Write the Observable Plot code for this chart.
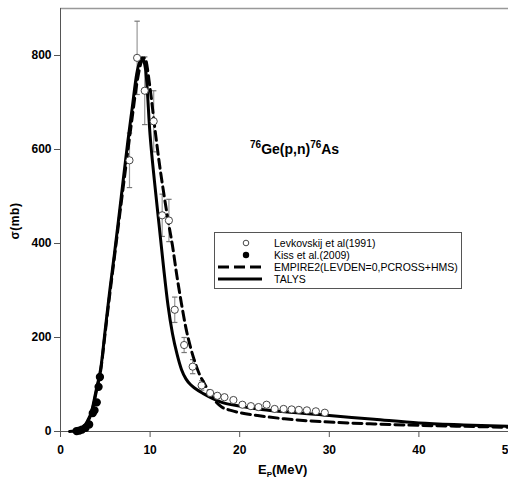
<!DOCTYPE html>
<html>
<head>
<meta charset="utf-8">
<script src="https://cdn.jsdelivr.net/npm/d3@7"></script>
<script src="https://cdn.jsdelivr.net/npm/@observablehq/plot@0.6"></script>
<style>
  html, body { margin: 0; padding: 0; background: #fff; }
  #chart { position: relative; width: 508px; height: 481px; overflow: hidden; }
</style>
</head>
<body>
<div id="chart"></div>
<script>
// Levkovskij et al (open circles with error bars)
const levE = [7.7, 8.55, 9.4, 10.4, 11.35, 12.1, 12.75, 13.8, 14.75, 15.75, 16.7, 17.5, 18.3, 19.3, 20.3, 21.25, 22.1, 23.0, 23.9, 24.9, 25.8, 26.6, 27.5, 28.5, 29.5];
const levS = [577, 795, 725, 660, 460, 449, 259, 184, 138, 98, 82, 76, 73, 67, 57, 54, 52, 57, 48, 48, 47, 46, 45, 43, 40];
const levErr = [58, 78, 72, 65, 45, 45, 27, 16, 15, 10, 0, 0, 0, 0, 0, 0, 0, 0, 0, 0, 0, 0, 0, 0, 0];

// Kiss et al. (2009) (filled circles)
const kissE = [1.8, 2.1, 2.4, 2.8, 3.2, 3.6, 3.8, 4.05, 4.25, 4.4];
const kissS = [1, 2, 4, 8, 15, 39, 45, 62, 95, 116];

// TALYS (solid)
const talysE = [1.0, 2.0, 2.5, 3.0, 3.5, 4.0, 4.5, 5.0, 5.5, 6.0, 6.5, 7.0, 7.5, 8.0, 8.5, 9.1, 9.5, 10.0, 10.5, 11.0, 11.5, 12.0, 12.5, 13.0, 13.5, 14.0, 14.5, 15.0, 16.0, 17.0, 18.0, 20.0, 22.0, 25.0, 30.0, 35.0, 40.0, 45.0, 50.0];
const talysS = [0, 2, 8, 22, 45, 90, 135, 218, 300, 375, 454, 535, 615, 688, 760, 795, 770, 630, 530, 440, 350, 268, 208, 165, 132, 112, 100, 92, 80, 70, 62, 54, 48, 42, 34, 26, 18, 14, 11];

// EMPIRE2 (dashed)
const empE = [1.5, 2.0, 2.5, 3.0, 3.5, 4.0, 4.5, 5.0, 5.5, 6.0, 6.5, 7.0, 7.5, 8.0, 8.5, 9.0, 9.4, 10.0, 10.5, 11.0, 11.5, 12.0, 12.5, 13.0, 13.5, 14.0, 14.5, 15.0, 15.5, 16.0, 16.5, 17.0, 17.5, 18.0, 19.0, 20.0, 22.0, 25.0, 30.0, 35.0, 40.0, 45.0, 50.0];
const empS = [0, 2, 7, 20, 42, 85, 132, 212, 292, 368, 445, 520, 595, 668, 738, 785, 795, 730, 650, 575, 510, 450, 395, 330, 272, 220, 180, 148, 122, 104, 87, 72, 60, 52, 45, 40, 34, 27, 20, 16, 13, 11, 9];

const xTicks = [0, 10, 20, 30, 40, 50];
const yTicks = [0, 200, 400, 600, 800];

const legendLabels = ["Levkovskij et al(1991)", "Kiss et al.(2009)", "EMPIRE2(LEVDEN=0,PCROSS+HMS)", "TALYS"];

const lev = levE.map((e, i) => ({e, s: levS[i], err: levErr[i]}));
const levBars = lev.filter(d => d.err > 0);
const kiss = kissE.map((e, i) => ({e, s: kissS[i]}));
const talys = talysE.map((e, i) => ({e, s: talysS[i]}));
const emp = empE.map((e, i) => ({e, s: empS[i]}));

const capW = 0.3;

const chart = Plot.plot({
  width: 508,
  height: 481,
  marginLeft: 60,
  marginRight: 0,
  marginTop: 8,
  marginBottom: 50,
  style: {fontFamily: "'Liberation Sans', Arial, sans-serif", fontSize: "12px", fontWeight: "bold", color: "#000", background: "#fff"},
  x: {domain: [0, 50]},
  y: {domain: [0, 900]},
  marks: [
    Plot.ruleY([900], {stroke: "#999", strokeWidth: 1.5}),
    Plot.ruleX([0], {stroke: "#555"}),
    Plot.ruleY([0], {stroke: "#555"}),
    Plot.axisX({ticks: xTicks, tickSize: 6, tickPadding: 8, stroke: "#555", label: null, fill: "#000"}),
    Plot.axisY({ticks: yTicks, tickSize: 6, tickPadding: 3, stroke: "#555", label: null, fill: "#000"}),
    // error bars
    Plot.link(levBars, {x1: "e", x2: "e", y1: d => d.s - d.err, y2: d => d.s + d.err, stroke: "#999", strokeWidth: 1.2}),
    Plot.link(levBars, {x1: d => d.e - capW, x2: d => d.e + capW, y1: d => d.s + d.err, y2: d => d.s + d.err, stroke: "#777", strokeWidth: 1.2}),
    Plot.link(levBars, {x1: d => d.e - capW, x2: d => d.e + capW, y1: d => d.s - d.err, y2: d => d.s - d.err, stroke: "#777", strokeWidth: 1.2}),
    // model curves
    Plot.line(emp, {x: "e", y: "s", stroke: "#000", strokeWidth: 3, strokeDasharray: "9,5", curve: "monotone-x"}),
    Plot.line(talys, {x: "e", y: "s", stroke: "#000", strokeWidth: 3, curve: "monotone-x"}),
    // data points
    Plot.dot(lev, {x: "e", y: "s", r: 3.6, fill: "#fff", stroke: "#333", strokeWidth: 0.9}),
    Plot.dot(kiss, {x: "e", y: "s", r: 3.4, fill: "#000", stroke: "#000"})
  ]
});

document.getElementById("chart").appendChild(chart);

const svg = d3.select(chart);

// Title
const title = svg.append("text")
  .attr("x", 250).attr("y", 154).attr("text-anchor", "start")
  .attr("font-size", 14).attr("font-weight", "bold").attr("fill", "#000");
title.append("tspan").attr("font-size", 10).attr("dy", -6).text("76");
title.append("tspan").attr("dy", 6).text("Ge(p,n)");
title.append("tspan").attr("font-size", 10).attr("dy", -6).text("76");
title.append("tspan").attr("dy", 6).text("As");

// Y axis label
svg.append("text")
  .attr("transform", "translate(19,221) rotate(-90)")
  .attr("text-anchor", "middle")
  .attr("font-size", 12).attr("font-weight", "bold").attr("letter-spacing", "0.6px")
  .text("σ(mb)");

// X axis label
const xl = svg.append("text")
  .attr("x", 258).attr("y", 474).attr("text-anchor", "start")
  .attr("font-size", 13).attr("font-weight", "bold");
xl.append("tspan").text("E");
xl.append("tspan").attr("font-size", 8).attr("dy", 3).text("P");
xl.append("tspan").attr("dy", -3).text("(MeV)");

// Legend
const lg = svg.append("g").attr("font-weight", "normal").attr("font-size", 10.5).attr("text-anchor", "start");
lg.append("rect").attr("x", 214.5).attr("y", 232.5).attr("width", 247).attr("height", 56)
  .attr("fill", "#fff").attr("stroke", "#555").attr("stroke-width", 1);
const rowY = [243, 255, 267, 279];
lg.append("circle").attr("cx", 246).attr("cy", rowY[0]).attr("r", 2.8).attr("fill", "#fff").attr("stroke", "#333").attr("stroke-width", 0.9);
lg.append("circle").attr("cx", 246).attr("cy", rowY[1]).attr("r", 3.2).attr("fill", "#000");
lg.append("line").attr("x1", 218).attr("x2", 262).attr("y1", rowY[2]).attr("y2", rowY[2])
  .attr("stroke", "#000").attr("stroke-width", 3).attr("stroke-dasharray", "11,5");
lg.append("line").attr("x1", 218).attr("x2", 262).attr("y1", rowY[3]).attr("y2", rowY[3])
  .attr("stroke", "#000").attr("stroke-width", 3);
legendLabels.forEach((t, i) => {
  lg.append("text").attr("x", 274).attr("y", rowY[i]).attr("dy", "0.36em").attr("fill", "#000").text(t);
});
</script>
</body>
</html>
